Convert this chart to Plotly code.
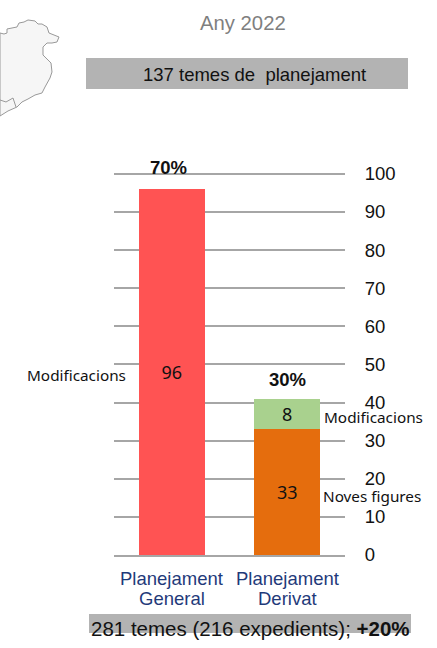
import plotly.graph_objects as go

categories = ["Planejament General", "Planejament Derivat"]
category_lines = [["Planejament", "General"], ["Planejament", "Derivat"]]
noves_figures = [None, 33]
modificacions = [96, 8]
bar_colors_base = "#e56d0d"
bar_colors_top = ["#ff5353", "#a9d18e"]
y_ticks = [0, 10, 20, 30, 40, 50, 60, 70, 80, 90, 100]
percent_labels = ["70%", "30%"]

map_x = [0, 4, 7, 7, 12, 17, 19, 24, 28, 35, 38, 42, 47, 49, 54, 59, 57, 52, 47, 43, 43, 47, 51, 52, 50, 45, 42, 35, 28, 22, 17, 8, 0]
map_y = [33, 34, 33, 29, 28, 27, 23, 22, 20, 21, 24, 24, 27, 33, 35, 37, 42, 43, 43, 47, 55, 59, 63, 72, 78, 87, 93, 95, 99, 102, 107, 111, 116]
map_inner_x = [0, 6, 13, 16]
map_inner_y = [100, 102, 98, 107]

W, H = 437, 648
PL, PR, PT, PB = 114, 345, 172, 555
SANS = "Liberation Sans"

fig = go.Figure()
fig.add_bar(x=categories, y=noves_figures, marker_color=bar_colors_base, marker_line_width=0, width=0.57,
            text=noves_figures, textposition="inside", insidetextanchor="middle",
            textangle=0, textfont=dict(family="Noto Sans", size=18, color="#111111"), showlegend=False)
fig.add_bar(x=categories, y=modificacions, marker_color=bar_colors_top, marker_line_width=0, width=0.57,
            text=modificacions, textposition="inside", insidetextanchor="middle",
            textangle=0, textfont=dict(family="Noto Sans", size=18, color="#111111"), showlegend=False)

def px_x(v):
    return (v - PL) / (PR - PL)

def px_y(v):
    return (PB - v) / (PB - PT)

def path_of(xs, ys, close=False):
    p = " ".join(("M" if i == 0 else "L") + f"{px_x(x):.4f},{px_y(y):.4f}" for i, (x, y) in enumerate(zip(xs, ys)))
    return p + (" Z" if close else "")

fig.add_shape(type="path", xref="paper", yref="paper", path=path_of(map_x, map_y, True),
              fillcolor="#f6f6f6", line=dict(color="#999999", width=1), layer="below")
fig.add_shape(type="path", xref="paper", yref="paper", path=path_of(map_inner_x, map_inner_y),
              line=dict(color="#999999", width=1), layer="below")

def paper_rect(x0, y0, x1, y1, color):
    fig.add_shape(type="rect", xref="paper", yref="paper", layer="below", line_width=0, fillcolor=color,
                  x0=px_x(x0), x1=px_x(x1), y0=px_y(y1), y1=px_y(y0))

def note(px, py, text, size, color="#111111", family=SANS):
    fig.add_annotation(xref="paper", yref="paper", showarrow=False, text=text, xanchor="center", yanchor="middle",
                       x=px_x(px), y=px_y(py), font=dict(family=family, size=size, color=color))

paper_rect(86, 58, 408, 89, "#b3b3b3")
paper_rect(89, 614, 411, 633, "#b3b3b3")

note(243, 23, "Any 2022", 20.3, "#7f7f7f")
note(254, 75, "137 temes de  planejament", 18.5)
note(250, 628, "281 temes (216 expedients); <b>+20%</b>", 20.5)
note(168, 167, "<b>" + percent_labels[0] + "</b>", 18.5)
note(287, 379, "<b>" + percent_labels[1] + "</b>", 18.5)
note(76, 375, "Modificacions", 15.3, family="Noto Sans")
note(373, 417, "Modificacions", 15.3, family="Noto Sans")
note(372, 496, "Noves figures", 15.3, family="Noto Sans")

for cat, lines in zip(categories, category_lines):
    for line, py in zip(lines, [578, 598]):
        fig.add_annotation(x=cat, xref="x", yref="paper", y=px_y(py), showarrow=False, text=line,
                           xanchor="center", yanchor="middle",
                           font=dict(family=SANS, size=18.5, color="#1f3a7a"))

fig.update_layout(
    width=W, height=H, autosize=False, barmode="stack", bargap=0.43,
    paper_bgcolor="white", plot_bgcolor="white",
    margin=dict(l=PL, r=W - PR, t=PT, b=H - PB),
    xaxis=dict(showgrid=False, ticks="", showline=True, linecolor="#a6a6a6", linewidth=2,
               showticklabels=False, fixedrange=True),
    yaxis=dict(side="right", range=[0, 100.5], tickvals=y_ticks, showgrid=True, gridcolor="#a6a6a6",
               gridwidth=1.5, zeroline=False, ticks="outside", ticklen=15, tickcolor="white",
               tickfont=dict(family=SANS, size=18.5, color="#111111"), fixedrange=True),
)
fig.write_html("out.html", post_script="document.body.style.margin='0';", config={"displayModeBar": False})
